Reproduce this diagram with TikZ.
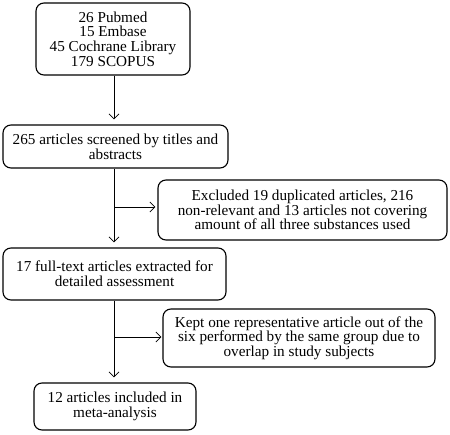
\documentclass[tikz,border=0pt]{standalone}
\usepackage{fontspec}
\setmainfont{Liberation Serif}
\usetikzlibrary{arrows.meta}

\begin{document}
\begin{tikzpicture}[x=1pt,y=-1pt,
    stage/.style={draw,rounded corners=8pt,line width=1.1pt,align=center,
      font=\fontsize{15.2}{14.7}\selectfont,inner sep=0pt},
    flow/.style={line width=0.8pt,-{Straight Barb[length=5pt,width=10pt]},shorten >=5pt}]
            \useasboundingbox (0,0) rectangle (450,434);

            \node[stage,minimum width=154pt,minimum height=72pt] (search) at (113,39)
                {26 Pubmed\\15 Embase\\45 Cochrane Library\\179 SCOPUS};
            \node[stage,minimum width=225pt,minimum height=43pt] (screen) at (115.5,146.5)
                {265 articles screened by titles and\\abstracts};
            \node[stage,minimum width=289pt,minimum height=60pt] (excl) at (302.5,210)
                {Excluded 19 duplicated articles, 216\\non-relevant and 13 articles not covering\\amount of all three substances used};
            \node[stage,minimum width=223pt,minimum height=52pt] (fulltext) at (114.5,274)
                {17 full-text articles extracted for\\detailed assessment};
            \node[stage,minimum width=272pt,minimum height=58pt] (kept) at (299,338)
                {Kept one representative article out of the\\six performed by the same group due to\\overlap in study subjects};
            \node[stage,minimum width=162pt,minimum height=47pt] (meta) at (115,406.5)
                {12 articles included in\\meta-analysis};

            \coordinate (split1) at (114,207);
            \coordinate (split2) at (114,337);

            \draw[flow] (search.south -| split1) -- (split1 |- screen.north);
            \draw[flow] (split1 |- screen.south) -- (split1 |- fulltext.north);
            \draw[flow] (split1 |- fulltext.south) -- (split1 |- meta.north);
            \draw[flow,shorten >=2pt] (split1) -- (split1 -| excl.west);
            \draw[flow,shorten >=1pt] (split2) -- (split2 -| kept.west);
        \end{tikzpicture}
\end{document}
